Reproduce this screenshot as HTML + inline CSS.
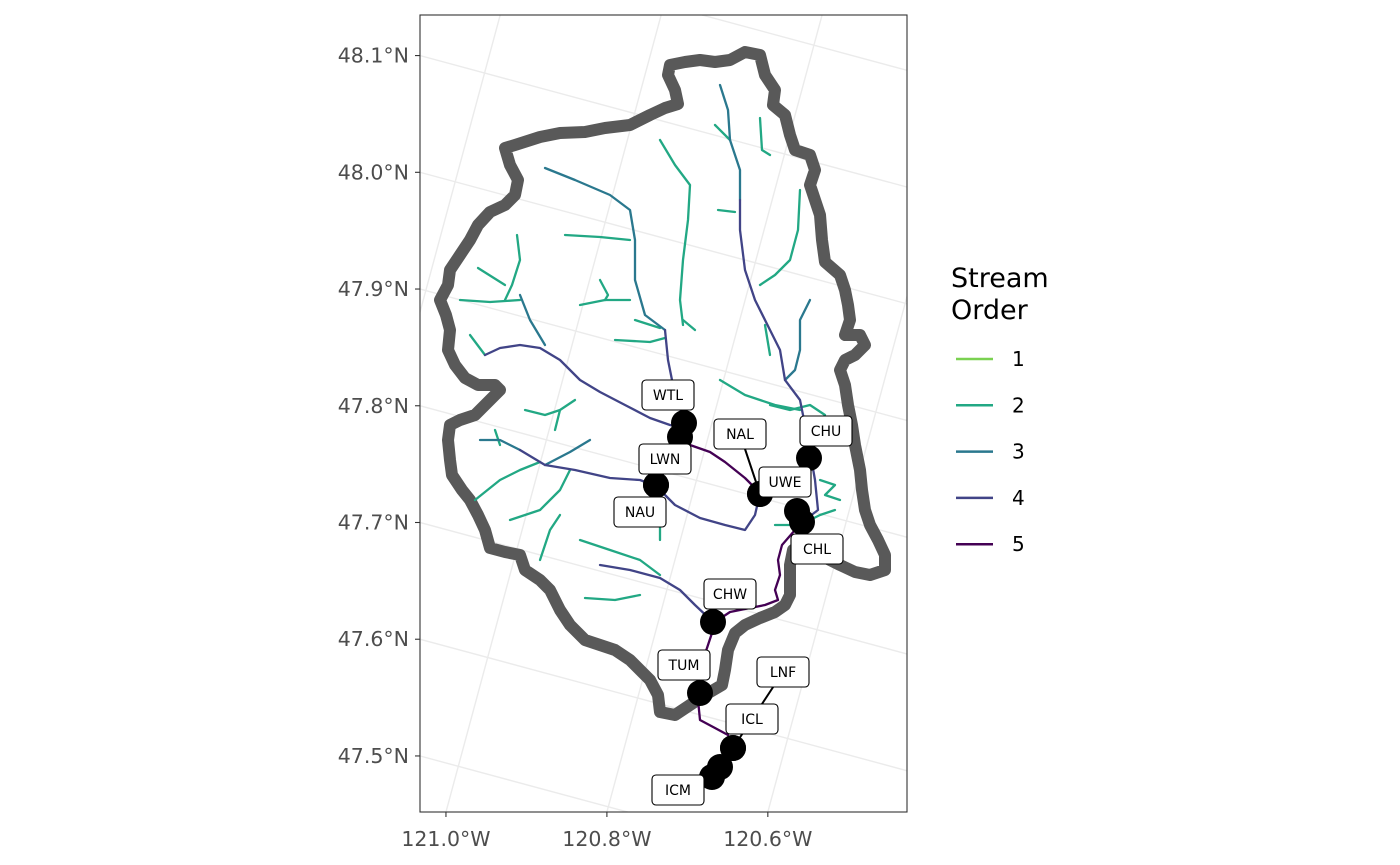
<!DOCTYPE html>
<html><head><meta charset="utf-8"><title>Stream order map</title>
<style>
html,body{margin:0;padding:0;background:#fff;width:1400px;height:865px;overflow:hidden;}
svg{display:block;font-family:"DejaVu Sans","Liberation Sans",sans-serif;}
</style></head>
<body>
<svg id="chart" width="1400" height="865" viewBox="0 0 1400 865" xmlns="http://www.w3.org/2000/svg">
<defs><clipPath id="panelClip"><rect x="420" y="15" width="487" height="797"/></clipPath></defs>
<rect x="0" y="0" width="1400" height="865" fill="#fff"/>
<g id="grid" clip-path="url(#panelClip)"></g>
<g id="boundary" clip-path="url(#panelClip)"></g>
<g id="streams" clip-path="url(#panelClip)"></g>
<g id="sites" clip-path="url(#panelClip)"></g>
<rect x="420" y="15" width="487" height="797" fill="none" stroke="#333" stroke-width="1.1"/>
<g id="yaxis"></g>
<g id="xaxis"></g>
<g id="legend">
  <text x="951" y="287" font-size="27" fill="#000">Stream</text>
  <text x="951" y="319" font-size="27" fill="#000">Order</text>
</g>
</svg>
<script>
// ---- data ----
const latTicks = [47.5, 47.6, 47.7, 47.8, 47.9, 48.0, 48.1];
const lonTicks = [-121.0, -120.8, -120.6];
const gridLats = [47.2, 47.3, 47.4, 47.5, 47.6, 47.7, 47.8, 47.9, 48.0, 48.1, 48.2, 48.3];
const gridLons = [-121.6, -121.4, -121.2, -121.0, -120.8, -120.6, -120.4, -120.2];
const orderLevels = [1, 2, 3, 4, 5];
const orderColors = ["#7AD151", "#22A884", "#2A788E", "#414487", "#440154"];
// boundary in projected km (easting, northing)
const boundary = [[32.5,76.0],[34.0,75.7],[34.5,73.7],[35.5,72.2],[35.3,70.7],[36.5,69.7],[37.0,67.7],[37.5,66.2],[39.0,65.7],[39.5,64.2],[39.0,62.7],[39.5,61.2],[40.0,59.7],[40.2,57.2],[40.5,55.0],[42.0,53.7],[42.5,52.2],[42.8,50.7],[43.0,49.2],[42.5,47.7],[44.0,47.7],[44.5,46.7],[43.5,45.7],[42.5,45.2],[42.0,44.2],[42.5,42.7],[42.8,40.7],[43.2,38.7],[43.5,36.7],[44.0,34.2],[44.2,32.2],[44.5,30.2],[45.0,28.7],[45.8,27.2],[46.5,25.7],[46.5,24.2],[45.0,23.7],[43.5,24.0],[42.0,24.7],[40.0,25.7],[38.0,26.7],[37.3,26.2],[37.0,24.7],[37.0,21.7],[36.5,20.7],[35.5,20.0],[34.0,19.4],[32.5,18.7],[31.5,17.9],[30.8,16.2],[30.5,14.2],[30.2,12.7],[28.5,11.7],[27.0,10.7],[25.5,9.7],[24.0,10.0],[23.8,11.7],[23.0,13.2],[22.0,14.2],[21.0,15.2],[19.5,16.2],[18.0,16.7],[16.5,17.2],[15.0,18.7],[14.0,20.2],[13.0,22.2],[12.0,23.2],[10.5,24.2],[10.0,25.7],[8.5,26.0],[7.0,26.4],[6.5,28.2],[5.8,29.7],[5.0,31.2],[4.2,32.2],[3.2,33.7],[3.0,35.2],[2.8,37.2],[3.0,38.7],[4.0,39.2],[5.5,39.7],[7.0,41.2],[8.0,42.2],[7.5,42.7],[5.8,42.7],[4.5,43.4],[3.5,44.7],[2.8,46.2],[3.0,48.2],[2.6,49.7],[2.0,51.2],[2.8,52.7],[3.0,54.2],[4.0,55.7],[5.0,57.2],[5.8,58.7],[7.0,60.0],[8.5,60.7],[9.5,61.7],[9.8,63.2],[9.0,64.7],[8.5,66.4],[9.5,66.7],[12.0,67.5],[14.0,67.9],[16.5,68.0],[18.5,68.4],[21.0,68.7],[23.0,69.7],[24.5,70.4],[25.8,70.8],[25.5,72.2],[24.8,73.7],[25.0,74.7],[26.5,75.0],[28.0,75.2],[29.5,75.0],[31.0,75.2]];
// streams: order + polyline in projected km
const streamOrders = [2,2,2,2,2,2,2,2,2,2,2,2,2,2,2,2,2,2,2,2,2,2,2,2,2,2,2,2,2,3,3,3,3,3,3,4,4,4,4,4,5,5];
const streamPaths = [
 [[24.0,67.2],[25.5,64.7],[27.0,62.7],[26.8,59.2],[26.3,55.2],[26.0,51.2],[26.3,48.7]],
 [[29.5,68.7],[31.0,67.2]],
 [[34.0,69.4],[34.2,66.2],[35.0,65.7]],
 [[14.5,57.7],[18.0,57.5],[21.0,57.2]],
 [[9.7,57.7],[10.0,55.2],[9.2,52.7],[8.5,51.2]],
 [[5.8,54.4],[8.5,52.7]],
 [[4.0,51.2],[7.0,51.0],[10.0,51.2]],
 [[16.0,50.7],[18.5,51.2],[21.0,51.2]],
 [[18.0,53.2],[18.8,51.7],[18.5,51.2]],
 [[29.8,60.2],[31.5,60.0]],
 [[38.0,62.2],[37.8,58.2],[37.0,55.2],[35.5,53.7],[34.0,52.7]],
 [[5.0,47.7],[6.5,45.7]],
 [[19.5,47.2],[23.0,47.0],[24.5,47.4]],
 [[21.5,49.2],[24.0,48.4]],
 [[26.3,49.2],[27.5,48.2]],
 [[30.0,43.2],[32.5,41.7],[35.5,40.7],[38.0,40.2]],
 [[34.5,48.7],[35.0,45.7]],
 [[10.5,40.2],[12.5,39.7],[14.0,40.2],[15.5,41.2]],
 [[13.5,38.2],[14.0,40.2]],
 [[7.5,38.2],[8.0,36.7]],
 [[5.5,31.2],[8.0,33.2],[10.0,34.2],[12.0,35.0]],
 [[9.0,29.2],[12.0,30.2],[14.0,32.2],[15.0,34.2]],
 [[12.0,25.2],[13.0,28.2],[14.0,29.7]],
 [[16.0,27.2],[19.0,26.2],[22.0,25.2],[24.0,23.7]],
 [[16.5,21.4],[19.5,21.2],[22.0,21.7]],
 [[23.5,30.2],[24.0,28.7],[24.0,27.2]],
 [[35.5,28.7],[38.0,28.7],[40.0,29.7],[41.5,30.2]],
 [[40.0,33.2],[41.5,32.7],[40.5,31.7],[42.0,31.2]],
 [[35.0,40.7],[37.0,40.2],[39.0,40.7],[40.5,39.7]],
 [[12.5,64.4],[15.5,63.2],[19.0,61.7],[21.0,60.2],[21.5,57.2],[21.5,53.2],[22.5,49.7],[24.5,48.2]],
 [[10.0,51.7],[11.0,49.2],[12.5,46.7]],
 [[30.0,72.7],[30.8,70.2],[31.0,67.2],[32.0,64.2],[32.0,61.2]],
 [[39.0,51.2],[38.0,49.2],[38.0,46.2],[37.5,44.2],[36.5,43.2]],
 [[17.0,37.2],[15.0,36.0],[12.5,34.7]],
 [[6.0,37.2],[8.0,37.2],[10.0,36.2]],
 [[6.5,45.7],[8.0,46.4],[10.0,46.7],[12.0,46.4],[14.0,45.2],[16.0,43.2],[18.0,42.0],[20.5,40.7],[23.0,39.4],[25.0,38.7],[26.3,38.4]],
 [[24.5,48.2],[24.8,45.2],[25.2,43.2],[26.0,40.7],[26.3,38.4]],
 [[32.0,61.2],[32.0,58.2],[32.5,54.2],[33.5,51.2],[35.0,48.2],[36.0,46.2],[36.5,43.2],[38.0,41.2],[38.8,37.2],[39.5,33.2],[39.8,30.2],[38.5,29.2]],
 [[10.0,36.2],[12.5,34.7],[15.5,34.2],[19.0,33.4],[22.0,33.2],[23.6,32.6],[25.5,30.7],[28.0,29.4],[30.5,28.7],[32.5,28.2],[33.5,29.7],[34.0,31.9]],
 [[18.0,24.7],[21.0,24.2],[24.0,23.4],[26.0,22.2],[27.5,20.7],[29.3,19.0]],
 [[26.3,38.4],[27.0,36.7],[29.0,36.0],[30.5,35.0],[32.5,33.4],[34.0,31.9]],
 [[38.5,29.2],[37.5,28.2],[36.2,26.7],[35.8,25.2],[36.0,23.7],[35.5,22.2],[35.8,21.2],[34.5,20.7],[33.0,20.4],[31.0,20.0],[29.8,19.2],[29.3,18.2],[28.8,16.7],[28.3,15.2],[28.0,13.2],[27.8,11.2],[28.0,9.2],[29.5,8.4],[30.8,7.7],[31.3,6.4],[30.0,4.7],[29.2,3.2]]
];
// sites
const siteCodes = ["WTL","LWN","NAU","NAL","UWE","CHU","CHL","CHW","TUM","LNF","ICL","ICM"];
const siteE = [26.4, 23.6, 23.6, 34.0, 34.0, 38.9, 38.2, 29.3, 28.0, 31.3, 31.3, 29.2];
const siteN = [38.9, 32.7, 32.7, 31.8, 31.8, 35.4, 29.0, 19.0, 11.9, 6.4, 6.4, 3.5];
const labelE = [24.8, 24.5, 22.0, 32.0, 36.5, 40.6, 39.7, 31.0, 26.4, 36.3, 33.2, 25.8];
const labelN = [41.7, 35.3, 30.0, 37.8, 33.0, 38.1, 26.3, 21.8, 14.7, 14.0, 9.3, 2.2];
const extraDotE = [26.0, 37.7, 30.0];
const extraDotN = [37.5, 30.1, 4.5];

// ---- scales ----
const NS = "http://www.w3.org/2000/svg";
const xS = e => 420 + e * 10;
const yS = n => 812 - n * 10;
const PA = 750, PB = 1088, PS = 0.27, X0 = 458.3, Y0 = 766.3;
function proj(lon, lat) {
  const L = lon + 121, M = lat - 47.5;
  return [X0 + PA * L + PS * PB * M, Y0 + PS * PA * L - PB * M];
}
function mk(tag, attrs, parent) {
  const el = document.createElementNS(NS, tag);
  for (const k in attrs) el.setAttribute(k, attrs[k]);
  parent.appendChild(el);
  return el;
}
const ptsStr = arr => arr.map(p => xS(p[0]).toFixed(1) + "," + yS(p[1]).toFixed(1)).join(" ");

// graticule
const grid = document.getElementById("grid");
gridLats.forEach(lat => {
  const a = proj(-121.8, lat), b = proj(-119.8, lat);
  const l = mk("line", {x1:a[0], y1:a[1], x2:b[0], y2:b[1], stroke:"#ebebeb", "stroke-width":1.4}, grid);
  
  
});
gridLons.forEach(lon => {
  const a = proj(lon, 47.0), b = proj(lon, 48.6);
  const l = mk("line", {x1:a[0], y1:a[1], x2:b[0], y2:b[1], stroke:"#ebebeb", "stroke-width":1.4}, grid);
  
  
});

// boundary
const bg = document.getElementById("boundary");
const poly = mk("polygon", {points: ptsStr(boundary), fill:"none", stroke:"#595959", "stroke-width":12, "stroke-linejoin":"round"}, bg);



// streams
const sg = document.getElementById("streams");
streamPaths.forEach((p, i) => {
  const o = streamOrders[i];
  const pl = mk("polyline", {points: ptsStr(p), fill:"none", stroke: orderColors[o - 1], "stroke-width":2.3, "stroke-linejoin":"round", "stroke-linecap":"round"}, sg);
  
  
});

// sites
const sites = document.getElementById("sites");
siteCodes.forEach((c, i) => {
  const dx = xS(siteE[i]), dy = yS(siteN[i]), lx = xS(labelE[i]), ly = yS(labelN[i]);
  if (Math.hypot(lx - dx, ly - dy) > 40) {
    const ln = mk("line", {x1:dx, y1:dy, x2:lx, y2:ly, stroke:"#000", "stroke-width":2}, sites);
    
    
  }
});
siteCodes.forEach((c, i) => {
  const d = mk("circle", {cx:xS(siteE[i]), cy:yS(siteN[i]), r:13, fill:"#000"}, sites);
  
  
});
extraDotE.forEach((e, i) => {
  const d = mk("circle", {cx:xS(e), cy:yS(extraDotN[i]), r:13, fill:"#000"}, sites);
  
  
});
siteCodes.forEach((c, i) => {
  const lx = xS(labelE[i]), ly = yS(labelN[i]);
  const g = mk("g", {}, sites);
  
  
  mk("rect", {x:lx - 26, y:ly - 15, width:52, height:30, rx:4, fill:"#fff", stroke:"#000", "stroke-width":1.1}, g);
  const t = mk("text", {x:lx, y:ly + 5, "text-anchor":"middle", "font-size":14, fill:"#000"}, g);
  t.textContent = c;
});

// y axis
const ya = document.getElementById("yaxis");
latTicks.forEach(lat => {
  const M = lat - 47.5;
  const L = (420 - X0 - PS * PB * M) / PA;
  const y = proj(-121 + L, lat)[1];
  const tk = mk("line", {x1:415, y1:y, x2:420, y2:y, stroke:"#333", "stroke-width":1.1}, ya);
  
  
  const t = mk("text", {x:409, y:y + 7, "text-anchor":"end", "font-size":20.5, fill:"#4d4d4d"}, ya);
  
  
  t.textContent = lat.toFixed(1) + "°N";
});
// x axis
const xa = document.getElementById("xaxis");
lonTicks.forEach(lon => {
  const L = lon + 121;
  const M = (Y0 + PS * PA * L - 812) / PB;
  const x = proj(lon, 47.5 + M)[0];
  const tk = mk("line", {x1:x, y1:812, x2:x, y2:817, stroke:"#333", "stroke-width":1.1}, xa);
  
  
  const t = mk("text", {x:x, y:846, "text-anchor":"middle", "font-size":20.5, fill:"#4d4d4d"}, xa);
  
  
  t.textContent = Math.abs(lon).toFixed(1) + "°W";
});

// legend
const lg = document.getElementById("legend");
orderLevels.forEach((o, i) => {
  const y = 359 + i * 46.3;
  const g = mk("g", {}, lg);
  
  
  mk("line", {x1:956, y1:y, x2:993, y2:y, stroke:orderColors[i], "stroke-width":2.5}, g);
  const t = mk("text", {x:1012, y:y + 7, "font-size":20, fill:"#000"}, g);
  t.textContent = o;
});
</script>
</body></html>
